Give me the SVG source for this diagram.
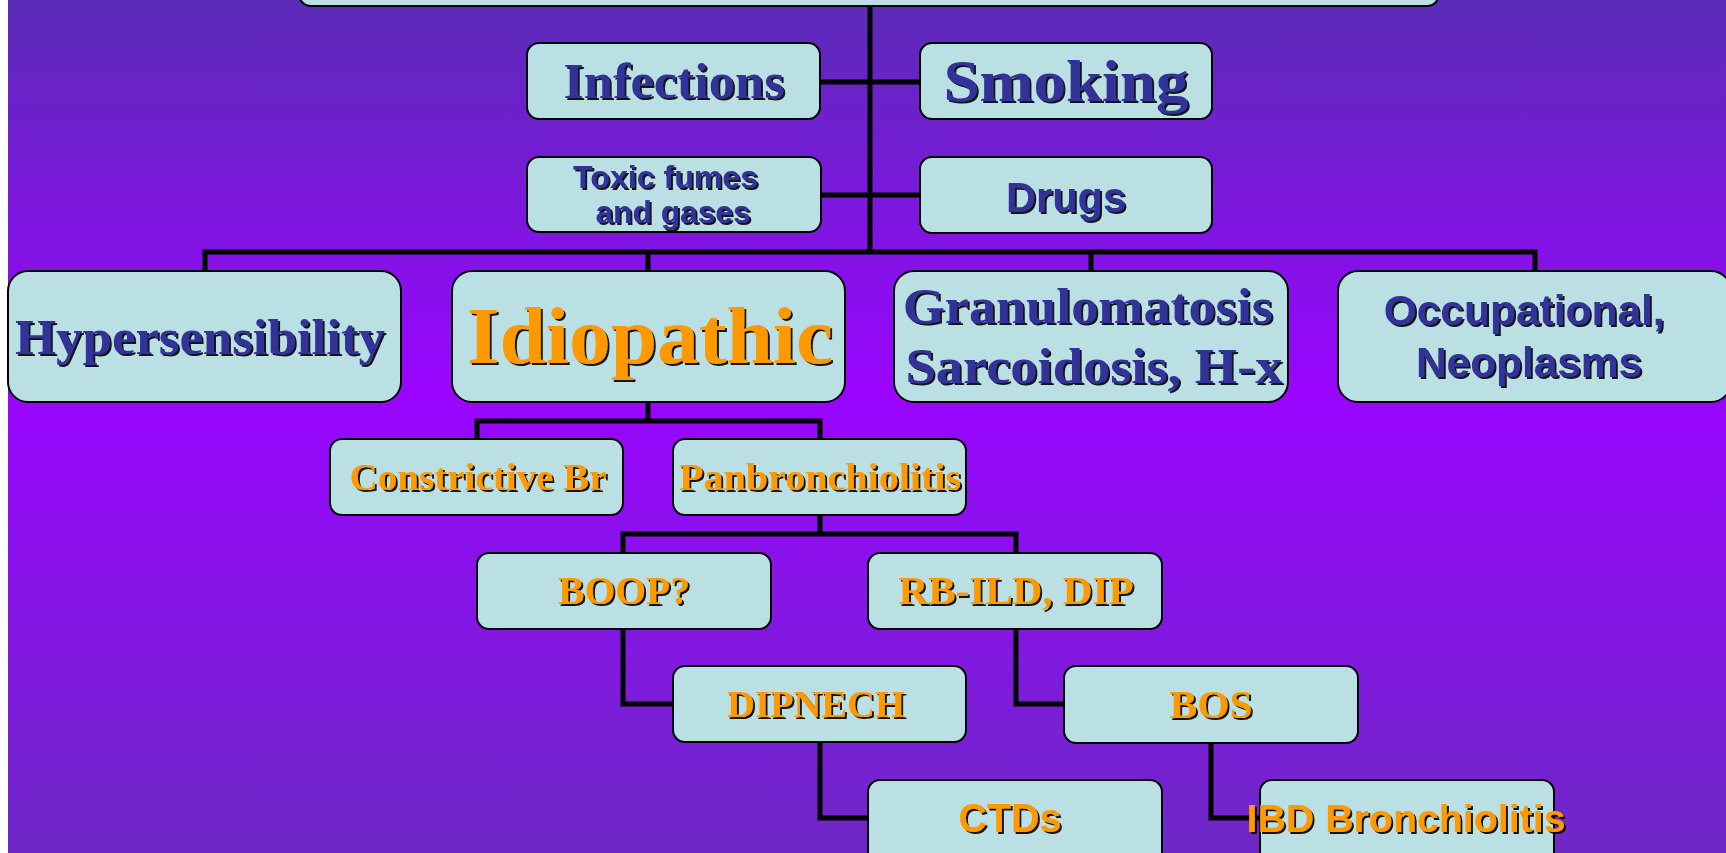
<svg xmlns="http://www.w3.org/2000/svg" width="1726" height="853" viewBox="0 0 1726 853">
  <defs>
    <linearGradient id="bg" x1="0" y1="0" x2="0" y2="1">
      <stop offset="0" stop-color="#5a2cb6"/>
      <stop offset="0.46" stop-color="#9a05ff"/>
      <stop offset="1" stop-color="#6e28c6"/>
    </linearGradient>
    <filter id="sh" x="-5%" y="-20%" width="110%" height="140%">
      <feDropShadow dx="2" dy="2" stdDeviation="0.4" flood-color="#000" flood-opacity="0.9"/>
    </filter>
  </defs>
  <style>
    .box { fill: #bbe0e3; stroke: #000; stroke-width: 2; }
    .serif { font-family: "Liberation Serif", "DejaVu Serif", serif; font-weight: bold; text-anchor: middle; filter: url(#sh); }
    .sans { font-family: "Liberation Sans", Arial, sans-serif; font-weight: bold; text-anchor: middle; filter: url(#sh); }
    .navy { fill: #333399; }
    .orange { fill: #ff9900; }
    .conn { fill: none; stroke: #000; stroke-width: 5; stroke-linejoin: miter; }
  </style>
  <rect x="0" y="0" width="1726" height="853" fill="#ffffff"/>
  <rect x="8" y="0" width="1718" height="853" fill="url(#bg)"/>

  <g id="connectors">
    <path class="conn" d="M870,6 V252"/>
    <path class="conn" d="M820,82 H920"/>
    <path class="conn" d="M821,195 H920"/>
    <path class="conn" d="M205,271 V252 H1535 V271"/>
    <path class="conn" d="M648,252 V271"/>
    <path class="conn" d="M1091,252 V271"/>
    <path class="conn" d="M648,402 V421"/>
    <path class="conn" d="M477,439 V421 H820 V439"/>
    <path class="conn" d="M820,515 V534"/>
    <path class="conn" d="M623,553 V534 H1016 V553"/>
    <path class="conn" d="M623,629 V704 H673"/>
    <path class="conn" d="M1016,629 V704 H1065"/>
    <path class="conn" d="M820,742 V818 H868"/>
    <path class="conn" d="M1211,743 V818 H1260"/>
  </g>

  <g id="title">
    <rect class="box" x="299" y="-20" width="1140" height="26" rx="12"/>
  </g>
  <g id="infections">
    <rect class="box" x="527" y="43" width="293" height="76" rx="12"/>
    <text class="serif navy" x="674" y="98" font-size="50" textLength="221" lengthAdjust="spacingAndGlyphs">Infections</text>
  </g>
  <g id="smoking">
    <rect class="box" x="920" y="43" width="292" height="76" rx="12"/>
    <text class="serif navy" x="1066" y="101" font-size="60" textLength="245" lengthAdjust="spacingAndGlyphs">Smoking</text>
  </g>
  <g id="toxic">
    <rect class="box" x="527" y="157" width="294" height="75" rx="12"/>
    <text class="sans navy" font-size="32">
      <tspan x="670" y="188" textLength="185" lengthAdjust="spacingAndGlyphs">Toxic fumes</tspan>
      <tspan x="673" y="223" textLength="155" lengthAdjust="spacingAndGlyphs">and gases</tspan>
    </text>
  </g>
  <g id="drugs">
    <rect class="box" x="920" y="157" width="292" height="76" rx="12"/>
    <text class="sans navy" x="1066" y="212" font-size="42" textLength="120" lengthAdjust="spacingAndGlyphs">Drugs</text>
  </g>
  <g id="hypersensibility">
    <rect class="box" x="8" y="271" width="393" height="131" rx="20"/>
    <text class="serif navy" x="200" y="354" font-size="51" textLength="370" lengthAdjust="spacingAndGlyphs">Hypersensibility</text>
  </g>
  <g id="idiopathic">
    <rect class="box" x="452" y="271" width="393" height="131" rx="20"/>
    <text class="serif orange" x="650" y="363" font-size="80" textLength="366" lengthAdjust="spacingAndGlyphs">Idiopathic</text>
  </g>
  <g id="granulomatosis">
    <rect class="box" x="894" y="271" width="394" height="131" rx="20"/>
    <text class="serif navy" font-size="50">
      <tspan x="1094" y="323" textLength="370" lengthAdjust="spacingAndGlyphs">Granulomatosis</tspan>
      <tspan x="1094" y="383" textLength="377" lengthAdjust="spacingAndGlyphs">Sarcoidosis, H-x</tspan>
    </text>
  </g>
  <g id="occupational">
    <rect class="box" x="1338" y="271" width="393" height="131" rx="20"/>
    <text class="sans navy" font-size="42">
      <tspan x="1530" y="325" textLength="281" lengthAdjust="spacingAndGlyphs">Occupational,</tspan>
      <tspan x="1529" y="377" textLength="226" lengthAdjust="spacingAndGlyphs">Neoplasms</tspan>
    </text>
  </g>
  <g id="constrictive">
    <rect class="box" x="330" y="439" width="293" height="76" rx="12"/>
    <text class="serif orange" x="478" y="490" font-size="38" textLength="257" lengthAdjust="spacingAndGlyphs">Constrictive Br</text>
  </g>
  <g id="panbronchiolitis">
    <rect class="box" x="673" y="439" width="293" height="76" rx="12"/>
    <text class="serif orange" x="820" y="490" font-size="38" textLength="282" lengthAdjust="spacingAndGlyphs">Panbronchiolitis</text>
  </g>
  <g id="boop">
    <rect class="box" x="477" y="553" width="294" height="76" rx="12"/>
    <text class="serif orange" x="624" y="604" font-size="41" textLength="132" lengthAdjust="spacingAndGlyphs">BOOP?</text>
  </g>
  <g id="rbild">
    <rect class="box" x="868" y="553" width="294" height="76" rx="12"/>
    <text class="serif orange" x="1016" y="604" font-size="41" textLength="235" lengthAdjust="spacingAndGlyphs">RB-ILD, DIP</text>
  </g>
  <g id="dipnech">
    <rect class="box" x="673" y="666" width="293" height="76" rx="12"/>
    <text class="serif orange" x="816" y="717" font-size="38" textLength="178" lengthAdjust="spacingAndGlyphs">DIPNECH</text>
  </g>
  <g id="bos">
    <rect class="box" x="1064" y="666" width="294" height="77" rx="12"/>
    <text class="serif orange" x="1211" y="718" font-size="40" textLength="83" lengthAdjust="spacingAndGlyphs">BOS</text>
  </g>
  <g id="ctds">
    <rect class="box" x="868" y="780" width="294" height="90" rx="12"/>
    <text class="sans orange" x="1010" y="832" font-size="40" textLength="103" lengthAdjust="spacingAndGlyphs">CTDs</text>
  </g>
  <g id="ibd">
    <rect class="box" x="1260" y="780" width="294" height="90" rx="12"/>
    <text class="sans orange" x="1406" y="832" font-size="39" textLength="319" lengthAdjust="spacingAndGlyphs">IBD Bronchiolitis</text>
  </g>
</svg>
